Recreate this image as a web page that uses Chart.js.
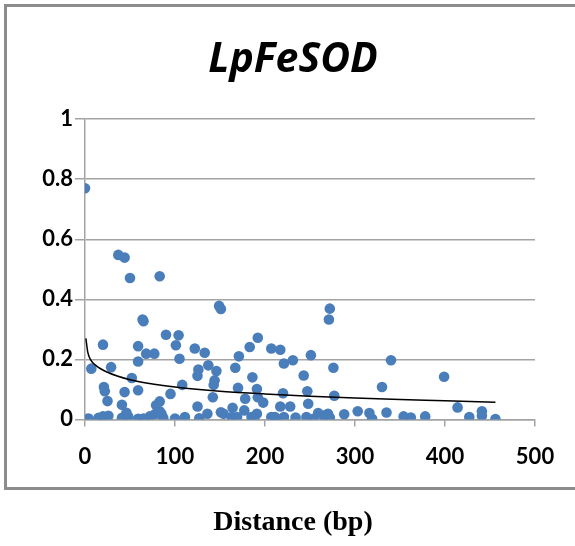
<!DOCTYPE html>
<html>
<head>
<meta charset="utf-8">
<script src="https://cdn.jsdelivr.net/npm/chart.js@4.4.1/dist/chart.umd.min.js"></script>
<style>
  html, body { margin: 0; padding: 0; background: #fff; overflow: hidden; }
  #frame {
    position: absolute; left: 4px; top: 4px; width: 700px; height: 480px;
    border: 3px solid #8c8c8c; border-right: none;
  }
  #chart { position: absolute; left: 0; top: 0; }
</style>
</head>
<body>
<div id="frame"></div>
<canvas id="chart" width="586" height="546"></canvas>
<script>
// distance (bp) of each point
const distance = [
  0, 37, 44, 50, 83, 149, 151, 64, 65, 90, 104, 192, 272, 271,
  20, 59, 68, 77, 59, 101, 105, 122, 133, 137, 126, 146, 7, 29, 167, 171,
  183, 207, 217, 221, 231, 251, 276, 340,
  52, 21, 22, 44, 59, 95, 108, 125, 144, 143, 170, 186, 191, 243, 247, 220,
  277, 330, 399,
  25, 41, 83, 79, 125, 142, 164, 178, 177, 192, 198, 217, 228, 248, 414,
  4, 15, 20, 26, 41, 46, 48, 59, 65, 72, 78, 83, 85, 87, 100, 111, 127, 136,
  151, 154, 163, 169, 185, 188, 191, 207, 211, 213, 221, 234, 246, 254, 259,
  265, 270, 272, 288, 303, 316, 319, 335, 354, 362, 378, 427, 441, 441, 456
];
const value = [
  0.77, 0.548, 0.539, 0.471, 0.477, 0.378, 0.368, 0.333, 0.327, 0.282, 0.28, 0.272, 0.369, 0.333,
  0.249, 0.244, 0.219, 0.219, 0.193, 0.247, 0.202, 0.236, 0.222, 0.18, 0.166, 0.161, 0.169, 0.174, 0.172, 0.21,
  0.241, 0.236, 0.232, 0.186, 0.197, 0.214, 0.172, 0.197,
  0.138, 0.108, 0.094, 0.091, 0.097, 0.085, 0.115, 0.145, 0.13, 0.115, 0.105, 0.14, 0.101, 0.146, 0.094, 0.087,
  0.079, 0.108, 0.142,
  0.061, 0.049, 0.06, 0.047, 0.043, 0.074, 0.039, 0.069, 0.03, 0.074, 0.056, 0.043, 0.043, 0.052, 0.04,
  0.003, 0.005, 0.01, 0.012, 0.005, 0.022, 0.01, 0.002, 0.003, 0.01, 0.018, 0.027, 0.019, 0.005, 0.003, 0.008, 0.004, 0.019,
  0.024, 0.019, 0.008, 0.008, 0.008, 0.002, 0.019, 0.008, 0.008, 0.002, 0.008, 0.006, 0.008, 0.002, 0.021,
  0.013, 0.019, 0.006, 0.017, 0.027, 0.021, 0.002, 0.023, 0.01, 0.006, 0.01, 0.008, 0.027, 0.012, 0.001
];

// trend line
const trendX = [1, 3, 6, 12, 25, 50, 75, 100, 150, 200, 250, 300, 350, 400, 456];
const trendY = [0.27, 0.225, 0.2, 0.18, 0.157, 0.132, 0.118, 0.108, 0.094, 0.085, 0.077, 0.071, 0.066, 0.062, 0.057];

const titleText = "LpFeSOD";
const xTitle = "Distance (bp)";

const gridColor = "#a3a3a3";
const tickFont = { family: "Lato", size: 22, weight: "bold" };

new Chart(document.getElementById("chart"), {
  type: "scatter",
  data: {
    datasets: [
      {
        label: "trend",
        type: "line",
        data: trendX.map((x, i) => ({ x: x, y: trendY[i] })),
        borderColor: "#000",
        borderWidth: 1.5,
        pointRadius: 0,
        fill: false,
        cubicInterpolationMode: "monotone",
        order: 0
      },
      {
        label: "points",
        data: distance.map((x, i) => ({ x: x, y: value[i] })),
        backgroundColor: "#4a7ebb",
        borderWidth: 0,
        pointRadius: 5.3,
        order: 1
      }
    ]
  },
  options: {
    responsive: false,
    animation: false,
    layout: { padding: 0 },
    plugins: {
      legend: { display: false },
      tooltip: { enabled: false },
      title: {
        display: true,
        text: titleText,
        color: "#000",
        font: { family: "Open Sans", size: 41, weight: "bold", style: "italic" },
        padding: { top: 36, bottom: 34 }
      },
      subtitle: {
        display: true,
        position: "bottom",
        text: xTitle,
        color: "#000",
        font: { family: "Liberation Serif", size: 28, weight: "bold" },
        padding: { top: 27, bottom: 6 }
      }
    },
    scales: {
      x: {
        type: "linear",
        min: 0,
        max: 500,
        ticks: { stepSize: 100, color: "#000", font: tickFont, padding: 17, maxRotation: 0 },
        grid: { drawOnChartArea: false, drawTicks: true, tickLength: 7, color: gridColor, lineWidth: 1.5 },
        border: { color: gridColor, width: 1.5 },
        afterFit: (scale) => { scale.height = 60; }
      },
      y: {
        min: 0,
        max: 1,
        ticks: {
          stepSize: 0.2, color: "#000", font: tickFont, padding: 2,
          callback: (v) => String(Math.round(v * 10) / 10)
        },
        grid: { color: gridColor, lineWidth: 1.5, tickLength: 10 },
        border: { color: gridColor, width: 1.5 },
        afterFit: (scale) => { scale.width = 85; }
      },
      // empty right-hand strip so the titles centre where the original has them
      yPad: {
        type: "linear",
        position: "right",
        min: 0,
        max: 1,
        ticks: { display: false },
        grid: { drawOnChartArea: false, drawTicks: false },
        border: { display: false },
        afterFit: (scale) => { scale.width = 51; }
      }
    }
  }
});
</script>
</body>
</html>
